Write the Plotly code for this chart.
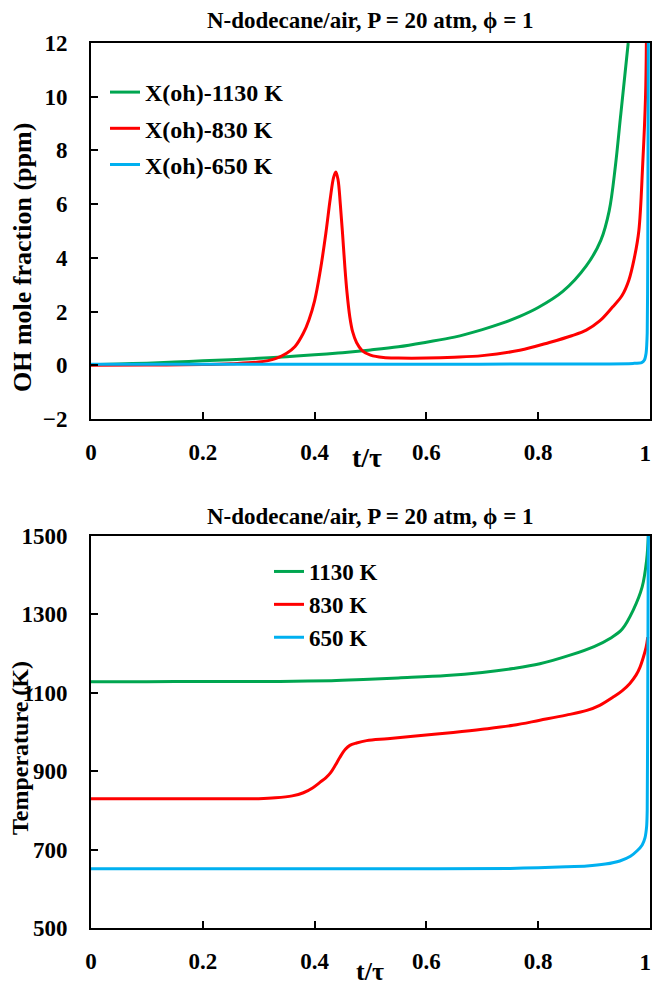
import plotly.graph_objects as go

W, H = 652, 989

# ---------------- data: OH mole fraction (ppm) vs t/tau ----------------
t_oh_1130 = [0, 0.05, 0.1, 0.15, 0.2, 0.25, 0.3, 0.35, 0.4, 0.45, 0.5, 0.55, 0.6, 0.65,
             0.7, 0.733, 0.767, 0.8, 0.844, 0.886, 0.912, 0.927, 0.938, 0.947, 0.955, 0.961]
oh_1130 = [0.02, 0.05, 0.08, 0.12, 0.17, 0.21, 0.26, 0.32, 0.39, 0.47, 0.57, 0.69, 0.86, 1.05,
           1.33, 1.55, 1.82, 2.15, 2.75, 3.7, 4.65, 5.75, 7.4, 9.2, 10.8, 12.0]

t_oh_830 = [0, 0.1, 0.2, 0.25, 0.3, 0.33, 0.35, 0.365, 0.38, 0.39, 0.4, 0.41, 0.42, 0.428,
            0.434, 0.438, 0.442, 0.446, 0.45, 0.454, 0.458, 0.463, 0.468, 0.475, 0.485, 0.5,
            0.523, 0.55, 0.6, 0.65, 0.7, 0.767, 0.82, 0.86, 0.886, 0.91, 0.933, 0.95, 0.962,
            0.972, 0.98, 0.987, 0.992, 0.9935]
oh_830 = [0.0, 0.01, 0.03, 0.06, 0.12, 0.25, 0.45, 0.7, 1.2, 1.7, 2.4, 3.5, 4.9, 6.2,
          7.0, 7.2, 6.9, 6.0, 4.9, 3.7, 2.7, 1.8, 1.25, 0.85, 0.55, 0.38,
          0.29, 0.27, 0.27, 0.3, 0.36, 0.56, 0.85, 1.1, 1.31, 1.65, 2.17, 2.6, 3.16,
          4.0, 5.0, 7.5, 10.0, 12.0]

t_oh_650 = [0, 0.5, 0.9, 0.97, 0.985, 0.99, 0.993, 0.995, 0.996, 0.997]
oh_650 = [0.04, 0.04, 0.05, 0.07, 0.1, 0.2, 0.45, 1.2, 4.0, 12.0]

# ---------------- data: Temperature (K) vs t/tau ----------------
t_T_1130 = [0, 0.1, 0.2, 0.3, 0.338, 0.43, 0.487, 0.55, 0.636, 0.7, 0.755, 0.803, 0.857,
            0.9, 0.93, 0.95, 0.97, 0.986, 0.994, 0.997]
T_1130 = [1128, 1128, 1129, 1129, 1129, 1131, 1134, 1138, 1144, 1152, 1162, 1174, 1196,
          1218, 1240, 1262, 1311, 1370, 1439, 1500]

t_T_830 = [0, 0.1, 0.2, 0.3, 0.33, 0.36, 0.38, 0.397, 0.41, 0.42, 0.428, 0.437, 0.445,
           0.455, 0.463, 0.475, 0.493, 0.53, 0.576, 0.648, 0.7, 0.755, 0.803, 0.85, 0.887,
           0.91, 0.934, 0.95, 0.964, 0.975, 0.982, 0.988, 0.993, 0.996]
T_830 = [830, 830, 830, 830, 832, 837, 845, 858, 872, 883, 895, 915, 935,
         956, 966, 972, 978, 983, 989, 999, 1007, 1017, 1030, 1043, 1055,
         1068, 1089, 1105, 1124, 1145, 1165, 1190, 1216, 1242]

t_T_650 = [0, 0.5, 0.75, 0.8, 0.85, 0.887, 0.92, 0.946, 0.965, 0.977, 0.986, 0.991, 0.994,
           0.995, 0.996, 0.997]
T_650 = [651, 651, 652, 654, 656, 658, 663, 671, 683, 697, 712, 730, 760, 800, 1100, 1500]

x_ticks = [0, 0.2, 0.4, 0.6, 0.8]
x_last_tick = [1]
oh_ticks = [-2, 0, 2, 4, 6, 8, 10, 12]
T_ticks = [500, 700, 900, 1100, 1300, 1500]

GREEN, RED, BLUE = "#00A650", "#FF0000", "#00B0F0"
FONT = "Liberation Serif"


def px_x(x):
    return x / W


def px_y(y):
    return 1 - y / H


fig = go.Figure()

top_series = [(t_oh_1130, oh_1130, "X(oh)-1130 K", GREEN, 1.0, "x"),
              (t_oh_830, oh_830, "X(oh)-830 K", RED, 1.0, "x"),
              (t_oh_650, oh_650, "X(oh)-650 K", BLUE, 0.5, "x3")]
bot_series = [(t_T_1130, T_1130, "1130 K", GREEN, 1.0, "x2"),
              (t_T_830, T_830, "830 K", RED, 1.0, "x2"),
              (t_T_650, T_650, "650 K", BLUE, 0.5, "x4")]

for i, (x, y, name, c, sm, xa) in enumerate(top_series):
    fig.add_trace(go.Scatter(x=x, y=y, mode="lines", name=name,
                             line=dict(color=c, width=3, shape="spline", smoothing=sm),
                             xaxis=xa, yaxis="y", legend="legend",
                             legendgroup="a%d" % i))
for i, (x, y, name, c, sm, xa) in enumerate(bot_series):
    fig.add_trace(go.Scatter(x=x, y=y, mode="lines", name=name,
                             line=dict(color=c, width=3, shape="spline", smoothing=sm),
                             xaxis=xa, yaxis="y2", legend="legend2",
                             legendgroup="b%d" % i))

tickfont = dict(family=FONT, size=23, color="black", weight="bold")
axis_common = dict(showline=True, linecolor="black", linewidth=2, mirror=True,
                   ticks="inside", ticklen=7, tickwidth=1.5, tickcolor="black",
                   showgrid=False, zeroline=False, tickfont=tickfont)
# overlay axis carrying only the label at t/tau = 1 (kept inside the page edge)
last_label = dict(range=[0, 1], tickvals=x_last_tick, ticktext=["1"], showline=False,
                  ticks="", showgrid=False, zeroline=False, tickfont=tickfont,
                  ticklabelposition="outside left", ticklabeloverflow="allow",
                  ticklabelstandoff=18, ticklabelshift=1)

xdom = [px_x(91), px_x(650)]
fig.update_layout(
    width=W, height=H,
    margin=dict(l=0, r=0, t=0, b=0, autoexpand=False),
    paper_bgcolor="white", plot_bgcolor="white",
    font=dict(family=FONT, color="black"),
    xaxis=dict(domain=xdom, range=[0, 1], tickvals=x_ticks, anchor="y",
               ticklabelstandoff=11, **axis_common),
    yaxis=dict(domain=[px_y(419), px_y(43)], range=[-2, 12], tickvals=oh_ticks, anchor="x",
               ticklabelstandoff=17, **axis_common),
    xaxis2=dict(domain=xdom, range=[0, 1], tickvals=x_ticks, anchor="y2",
                ticklabelstandoff=11, **axis_common),
    yaxis2=dict(domain=[px_y(928), px_y(536)], range=[500, 1500], tickvals=T_ticks, anchor="x2",
                ticklabelstandoff=17, **axis_common),
    xaxis3=dict(overlaying="x", anchor="y", side="bottom", **last_label),
    xaxis4=dict(overlaying="x2", anchor="y2", side="bottom", **last_label),
    legend=dict(x=px_x(105), y=px_y(70), xanchor="left", yanchor="top",
                bgcolor="rgba(0,0,0,0)", tracegroupgap=2,
                font=dict(family=FONT, size=24, color="black", weight="bold")),
    legend2=dict(x=px_x(269), y=px_y(550), xanchor="left", yanchor="top",
                 bgcolor="rgba(0,0,0,0)", tracegroupgap=0,
                 font=dict(family=FONT, size=23, color="black", weight="bold")),
    showlegend=True,
)

title_text = "N-dodecane/air, P = 20 atm, \u03d5 = 1"
ann = [
    dict(text=title_text, x=px_x(370), y=px_y(20), font=dict(size=23)),
    dict(text=title_text, x=px_x(370), y=px_y(516), font=dict(size=23)),
    dict(text="t/\u03c4", x=px_x(367), y=px_y(457), font=dict(size=28)),
    dict(text="t/\u03c4", x=px_x(370), y=px_y(971), font=dict(size=26)),
    dict(text="OH mole fraction (ppm)", x=px_x(22), y=px_y(258), textangle=-90, font=dict(size=26)),
    dict(text="Temperature (K)", x=px_x(20), y=px_y(748), textangle=-90, font=dict(size=24)),
]
for a in ann:
    f = dict(family=FONT, color="black", weight="bold")
    f.update(a.pop("font"))
    fig.add_annotation(xref="paper", yref="paper", showarrow=False,
                       xanchor="center", yanchor="middle", font=f, **a)

fig.write_html("out.html", config={"displayModeBar": False},
               post_script="document.body.style.margin='0px';document.body.style.overflow='hidden';")
